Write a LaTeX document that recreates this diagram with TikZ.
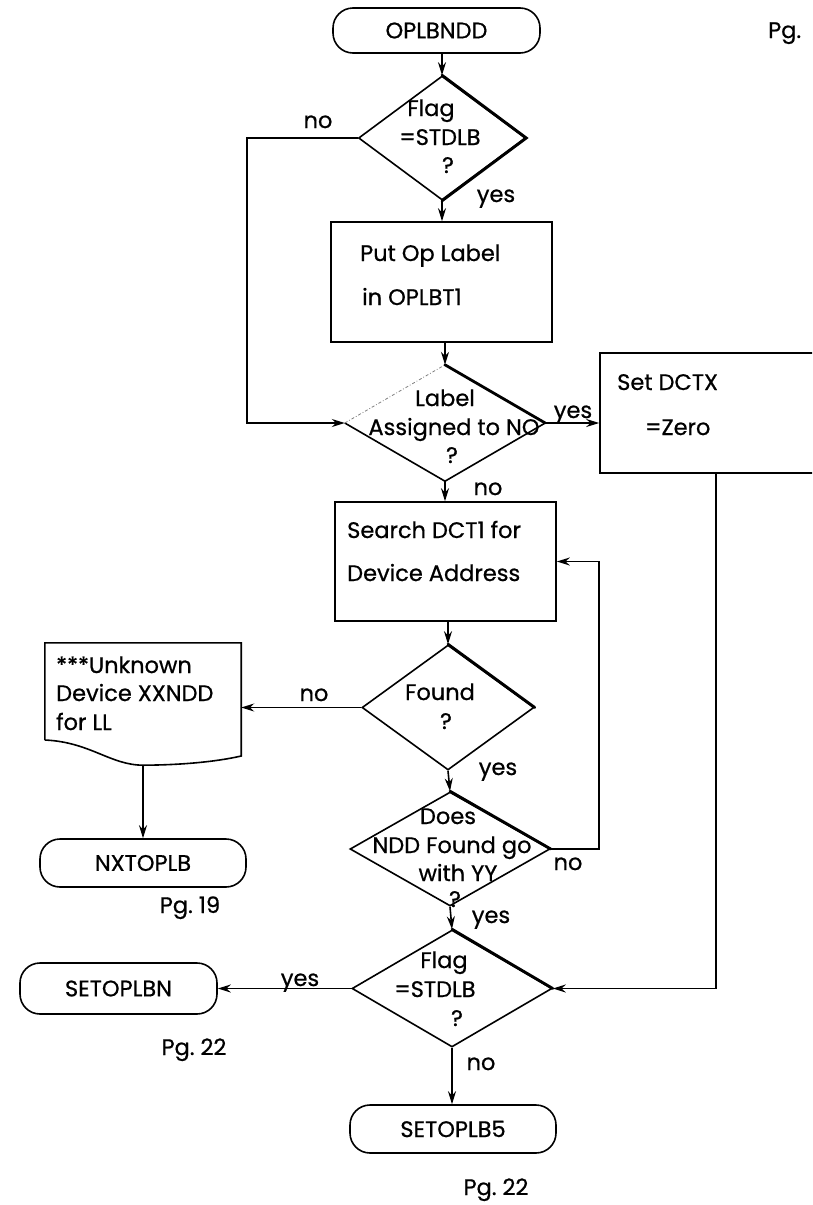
\documentclass[tikz,border=0pt]{standalone}
\usepackage{fontspec}
\setmainfont{Poppins}[FakeBold=0.7]
\usetikzlibrary{arrows.meta,shapes.geometric}
\begin{document}
\begin{tikzpicture}[x=1pt,y=-1pt,
  every node/.style={font=\fontsize{22.5}{26}\selectfont},
  txt/.style={inner sep=0pt, text height=16pt, text depth=0pt},
  line/.style={line width=1.6pt},
  arr/.style={line width=1.6pt, -{Stealth[length=13pt,width=8pt]}},
  proc/.style={draw, line width=1.6pt, rectangle, inner sep=0pt},
  term/.style={draw, line width=1.6pt, rounded corners=20pt, inner sep=0pt},
  dec/.style={diamond, inner sep=0pt},
  heavy/.style={line width=2.8pt, line cap=round},
]
\clip (0,0) rectangle (812,1205);
\fill[white] (0,0) rectangle (812,1205);

% ---- shapes ----
\node[term, minimum width=207pt, minimum height=45pt] (start) at (436.5,30.5) {OPLBNDD};
\node[txt, anchor=west] (pgtop) at (768,30) {Pg.};

\node[dec, draw, line width=1.6pt, minimum width=167pt, minimum height=124pt] (f1) at (442,138) {};
\node[txt] (f1a) at (431,108) {Flag};
\node[txt] (f1b) at (440,137) {=STDLB};
\node[txt] (f1c) at (448,165) {?};
\node[txt] (no1) at (318,120) {no};
\node[txt] (yes1) at (496,194) {yes};

\node[proc, minimum width=221pt, minimum height=120pt] (put) at (441.5,282) {};
\node[txt, anchor=west] (puta) at (360,253) {Put Op Label};
\node[txt, anchor=west] (putb) at (362,297) {in OPLBT1};

\node[dec, minimum width=200pt, minimum height=116pt] (d2) at (445,423) {};
\draw[line] (d2.west) -- (d2.south) -- (d2.east);
\draw[line width=0.8pt, dash dot, gray] (d2.west) -- (d2.north);
\node[txt] (d2a) at (445,398) {Label};
\node[txt] (d2b) at (454,427) {Assigned to NO};
\node[txt] (d2c) at (452,455) {?};
\node[txt] (yes2) at (573,410) {yes};
\node[txt] (no2) at (488,487) {no};

\node[proc, minimum width=232pt, minimum height=120pt] (setd) at (716,413) {};
\node[txt, anchor=west] (setda) at (617,382) {Set DCTX};
\node[txt, anchor=west] (setdb) at (645,427) {=Zero};

\node[proc, minimum width=221pt, minimum height=119pt] (search) at (445.5,561.5) {};
\node[txt, anchor=west] (searcha) at (347,530) {Search DCT1 for};
\node[txt, anchor=west] (searchb) at (347,573) {Device Address};

\node[dec, draw, line width=1.6pt, minimum width=172pt, minimum height=125pt] (found) at (448,707.5) {};
\node[txt] (founda) at (440,692) {Found};
\node[txt] (foundb) at (446,721) {?};
\node[txt] (no3) at (314,693) {no};
\node[txt] (yes3) at (498,767) {yes};

\node[inner sep=0pt, minimum width=196pt, minimum height=122pt] (doc) at (143,704) {};
\draw[line] (doc.south west |- 0,740) -- (doc.north west) -- (doc.north east) -- (doc.east |- 0,756)
  .. controls (215,762) and (180,765) .. (doc.south)
  .. controls (110,765) and (90,742) .. (doc.south west |- 0,740);
\node[txt, anchor=west] (doca) at (56,665) {***Unknown};
\node[txt, anchor=west] (docb) at (56,693) {Device XXNDD};
\node[txt, anchor=west] (docc) at (56,722) {for LL};

\node[term, minimum width=206pt, minimum height=48pt] (nxt) at (143,863) {NXTOPLB};
\node[txt] (pg19) at (190,905) {Pg.\ 19};

\node[dec, draw, line width=1.6pt, minimum width=200pt, minimum height=114pt] (does) at (450,849) {};
\node[txt] (doesa) at (448,816) {Does};
\node[txt] (doesb) at (452,845) {NDD Found go};
\node[txt] (doesc) at (458,873) {with YY};
\node[txt] (doesd) at (455,899) {?};
\node[txt] (no4) at (568,862) {no};
\node[txt] (yes4) at (491,915) {yes};

\node[dec, draw, line width=1.6pt, minimum width=200pt, minimum height=117pt] (f2) at (452,988.5) {};
\node[txt] (f2a) at (444,960) {Flag};
\node[txt] (f2b) at (435,989) {=STDLB};
\node[txt] (f2c) at (457,1018) {?};
\node[txt] (yes5) at (300,978) {yes};
\node[txt] (no5) at (481,1062) {no};

\node[term, minimum width=197pt, minimum height=51pt] (setn) at (118.5,988.5) {SETOPLBN};
\node[txt] (pg22a) at (194,1047) {Pg.\ 22};

\node[term, minimum width=206pt, minimum height=48pt] (set5) at (453,1129) {SETOPLB5};
\node[txt] (pg22b) at (496,1187) {Pg.\ 22};

% ---- heavy edges (as printed) ----
\draw[heavy] (f1.north) -- (f1.east) -- (f1.south);
\draw[heavy] (d2.north) -- (d2.east);
\draw[heavy] (found.north) -- (found.east);
\draw[heavy] (does.north) -- (does.east);
\draw[heavy] (f2.north) -- (f2.east);

% ---- connectors ----
\coordinate (lft) at (247,137);
\coordinate (rloop) at (599,849);
\draw[arr] (start.south -| f1.north) -- (f1.north);
\draw[arr] (f1.west) -- (f1.west -| lft) |- (d2.west);
\draw[arr] (f1.south) -- (f1.south |- put.north);
\draw[arr] (d2.north |- put.south) -- (d2.north);
\draw[arr] (d2.east) -- (d2.east -| setd.west);
\draw[arr] (d2.south) -- (d2.south |- search.north);
\draw[arr] (found.north |- search.south) -- (found.north);
\draw[arr] (found.west) -- (found.west -| doc.east);
\draw[arr] (doc.south) -- (nxt.north);
\draw[arr] (found.south) -- (does.north);
\draw[arr] (does.east) -- (rloop) |- (search.east);
\draw[arr] (does.south) -- (f2.north);
\draw[arr] (setd.south) |- (f2.east);
\draw[arr] (f2.west) -- (setn.east);
\draw[arr] (f2.south) -- (f2.south |- set5.north);
\end{tikzpicture}
\end{document}
